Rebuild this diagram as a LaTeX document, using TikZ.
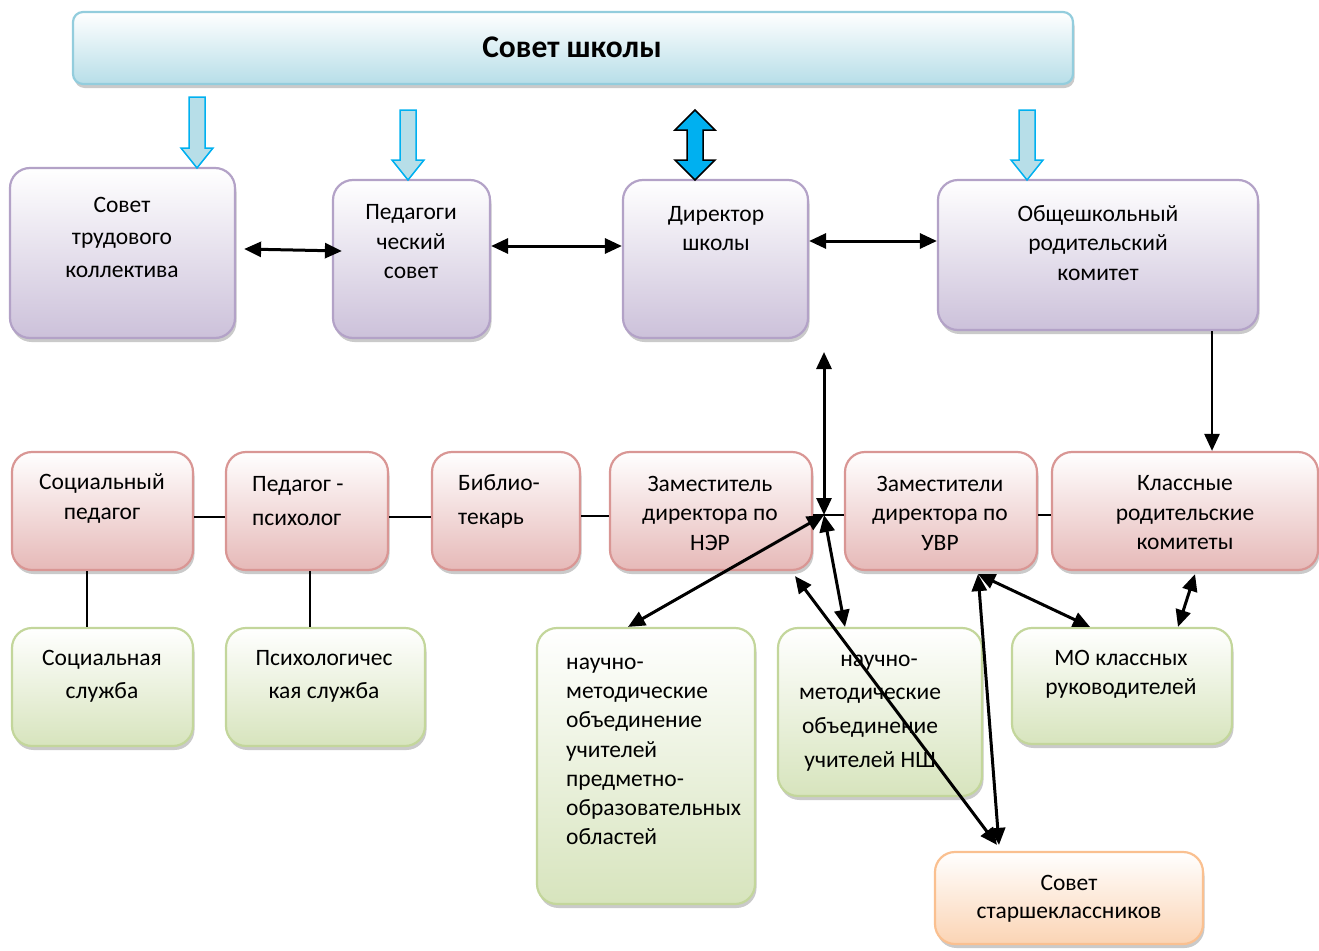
\documentclass[tikz,border=0pt]{standalone}
\usepackage{fontspec}
\setmainfont{Carlito}
\usetikzlibrary{arrows.meta,shadows}
\definecolor{barline}{HTML}{93CDDD}
\definecolor{barfill}{HTML}{B7DEE8}
\definecolor{purpleline}{HTML}{B3A2C7}
\definecolor{purplefill}{HTML}{CCC1DA}
\definecolor{pinkline}{HTML}{D99694}
\definecolor{pinkfill}{HTML}{E6B9B8}
\definecolor{greenline}{HTML}{C3D69B}
\definecolor{greenfill}{HTML}{D7E4BD}
\definecolor{orangeline}{HTML}{FAC090}
\definecolor{orangefill}{HTML}{FBD4B4}
\definecolor{arrowblue}{HTML}{00B0F0}
\tikzset{
    box/.style={rounded corners=20pt, line width=2.2pt,
        drop shadow={shadow xshift=1.5pt, shadow yshift=-4pt, opacity=0.35, fill=black!60}},
    barbox/.style={box, rounded corners=10pt, draw=barline, top color=white, bottom color=barfill},
    purplebox/.style={box, draw=purpleline, top color=white, bottom color=purplefill},
    pinkbox/.style={box, draw=pinkline, top color=white, bottom color=pinkfill},
    greenbox/.style={box, draw=greenline, top color=white, bottom color=greenfill},
    orangebox/.style={box, draw=orangeline, top color=white, bottom color=orangefill},
    txt/.style={align=center, inner sep=0pt, font=\fontsize{23.5}{29.5}\selectfont},
    lefttxt/.style={txt, align=left, anchor=west},
    blockdown/.style={draw=arrowblue, fill=barfill, line width=1.5pt, line join=miter},
    blockboth/.style={draw=black, fill=arrowblue, line width=1.5pt, line join=miter},
    link/.style={line width=3pt, {Triangle[length=17pt,width=15pt]}-{Triangle[length=17pt,width=15pt]}},
    linkone/.style={line width=2.6pt, -{Triangle[length=17pt,width=15pt]}},
    plain/.style={line width=2pt}
}
\begin{document}
\begin{tikzpicture}[x=1pt, y=-1pt]
    \useasboundingbox (0, 0) rectangle (1319, 950);

    \node[barbox, minimum width=1000pt, minimum height=72pt] (sovet) at (573, 48) {};
    \node[txt, font=\fontsize{31.5}{33}\selectfont\bfseries] (sovett) at (572, 47) {Совет школы};

    \node[purplebox, minimum width=225pt, minimum height=170pt] (stk) at (122.5, 253) {};
    \node[purplebox, minimum width=157pt, minimum height=158pt] (ps) at (411.5, 259) {};
    \node[purplebox, minimum width=185pt, minimum height=158pt] (dir) at (715.5, 259) {};
    \node[purplebox, minimum width=320pt, minimum height=150pt] (orc) at (1098, 255) {};

    \node[pinkbox, minimum width=181pt, minimum height=118pt] (socped) at (102.5, 511) {};
    \node[pinkbox, minimum width=162pt, minimum height=118pt] (pedpsy) at (307, 511) {};
    \node[pinkbox, minimum width=148pt, minimum height=118pt] (bib) at (506, 511) {};
    \node[pinkbox, minimum width=202pt, minimum height=118pt] (zamner) at (711, 511) {};
    \node[pinkbox, minimum width=192pt, minimum height=118pt] (zamuvr) at (941, 511) {};
    \node[pinkbox, minimum width=266pt, minimum height=118pt] (krk) at (1185, 511) {};

    \node[greenbox, minimum width=181pt, minimum height=118pt] (socsl) at (102.5, 687) {};
    \node[greenbox, minimum width=199pt, minimum height=118pt] (psysl) at (325.5, 687) {};
    \node[greenbox, minimum width=218pt, minimum height=276pt] (nmoa) at (646, 766) {};
    \node[greenbox, minimum width=204pt, minimum height=168pt] (nmob) at (880, 712) {};
    \node[greenbox, minimum width=220pt, minimum height=116pt] (mo) at (1122, 686) {};
    \node[orangebox, minimum width=268pt, minimum height=92pt] (sst) at (1069, 898) {};

    \node[txt, font=\fontsize{23.5}{32.5}\selectfont] (stkt) at (122, 237) {Совет\\трудового\\коллектива};
    \node[txt] (pst) at (411, 242) {Педагоги\\ческий\\совет};
    \node[txt] (dirt) at (716, 228.5) {Директор\\школы};
    \node[txt] (orct) at (1098, 243) {Общешкольный\\родительский\\комитет};

    \node[txt] (socpedt) at (102, 498.5) {Социальный\\педагог};
    \node[lefttxt, font=\fontsize{23.5}{34}\selectfont] (pedpsyt) at (252, 501) {Педагог -\\психолог};
    \node[lefttxt, font=\fontsize{23.5}{34}\selectfont] (bibt) at (458, 501) {Библио-\\текарь};
    \node[txt] (zamnert) at (710, 513) {Заместитель\\директора по\\НЭР};
    \node[txt] (zamuvrt) at (940, 513) {Заместители\\директора по\\УВР};
    \node[txt] (krkt) at (1185, 513) {Классные\\родительские\\комитеты};

    \node[txt, font=\fontsize{23.5}{33}\selectfont] (socslt) at (102, 676.5) {Социальная\\служба};
    \node[txt, font=\fontsize{23.5}{33}\selectfont] (psyslt) at (324, 676.5) {Психологичес\\кая служба};
    \node[lefttxt, font=\fontsize{23.5}{29.2}\selectfont] (nmoat) at (566, 751.5) {научно-\\методические\\объединение\\учителей\\предметно-\\образовательных\\областей};
    \node[txt, font=\fontsize{23.5}{33.7}\selectfont] (nmobt) at (870, 713) {\hspace*{18pt}научно-\\методические\\объединение\\учителей НШ};
    \node[txt] (mot) at (1121, 674.5) {МО классных\\руководителей};
    \node[txt, font=\fontsize{23.5}{28}\selectfont] (sstt) at (1069, 899) {Совет\\старшеклассников};

    \foreach \x/\ya/\yb in {197/97/168, 408/110/180, 1027/110/180}{
            \draw[blockdown] (\x-8, \ya) -- (\x+8, \ya) -- (\x+8, \yb-20) -- (\x+16, \yb-20)
                -- (\x, \yb) -- (\x-16, \yb-20) -- (\x-8, \yb-20) -- cycle;
        }
    \draw[blockboth] (695, 110) -- (715, 130) -- (703, 130) -- (703, 160) -- (715, 160)
        -- (695, 180) -- (675, 160) -- (687, 160) -- (687, 130) -- (675, 130) -- cycle;

    \coordinate (jn) at (824, 515);
    \coordinate (dirlow) at (824, 352);

    \draw[link] ([xshift=8pt, yshift=4pt]stk.east) -- ([xshift=10pt, yshift=8pt]ps.west);
    \draw[link] ([yshift=13pt]ps.east) -- ([yshift=13pt]ps.east -| dir.west);
    \draw[link] ([yshift=18pt]dir.east) -- ([yshift=18pt]dir.east -| orc.west);
    \draw[linkone] ([xshift=114pt]orc.south) -- ([xshift=114pt]orc.south |- krk.north);
    \draw[link] (dirlow) -- (jn);

    \draw[plain] ([yshift=-6pt]socped.east) -- ([yshift=-6pt]pedpsy.west);
    \draw[plain] ([yshift=-6pt]pedpsy.east) -- ([yshift=-6pt]bib.west);
    \draw[plain] ([yshift=-5pt]bib.east) -- ([yshift=-5pt]zamner.west);
    \draw[plain] ([yshift=-4pt]zamner.east) -- ([yshift=-4pt]zamuvr.west);
    \draw[plain] ([yshift=-4pt]zamuvr.east) -- ([yshift=-4pt]krk.west);
    \draw[plain] ([xshift=-16pt]socped.south) -- ([xshift=-16pt]socsl.north);
    \draw[plain] ([xshift=3pt]pedpsy.south) -- ([xshift=3pt]pedpsy.south |- psysl.north);

    \draw[link] (jn) -- ([xshift=-18pt]nmoa.north);
    \draw[link] (jn) -- ([xshift=-35pt]nmob.north);
    \draw[link] ([xshift=84pt, yshift=-5pt]zamner.south) -- ([xshift=-72pt, yshift=6pt]sst.north);
    \draw[link] ([xshift=37pt, yshift=-3pt]zamuvr.south) -- ([xshift=-70pt, yshift=6pt]sst.north);
    \draw[link] ([xshift=37pt, yshift=-3pt]zamuvr.south) -- ([xshift=-32pt]mo.north);
    \draw[link] ([xshift=10pt, yshift=-3pt]krk.south) -- ([xshift=56pt]mo.north);
\end{tikzpicture}
\end{document}
